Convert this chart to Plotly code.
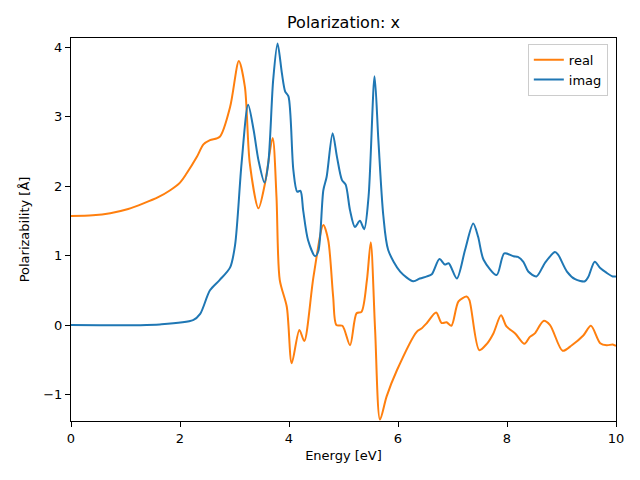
import plotly.graph_objects as go

# Real part (orange)
real_e = [0.0, 0.40, 0.72, 1.05, 1.33, 1.60, 1.82, 2.00, 2.12, 2.31, 2.43, 2.55, 2.73, 2.92, 3.08, 3.19, 3.28, 3.44, 3.56, 3.70,
          3.77, 3.83, 3.96, 4.05, 4.19, 4.28, 4.45, 4.63, 4.72, 4.81, 4.87, 4.98, 5.12, 5.24, 5.33, 5.43,
          5.50, 5.58, 5.67, 5.79, 5.98, 6.34, 6.43, 6.53, 6.70, 6.80, 6.89, 6.98, 7.11, 7.26, 7.31, 7.49,
          7.63, 7.75, 7.89, 7.99, 8.15, 8.32, 8.42, 8.51, 8.67, 8.79, 9.02, 9.19, 9.40, 9.54, 9.71, 9.83,
          9.94, 10.0]
real_v = [1.57, 1.58, 1.61, 1.67, 1.75, 1.84, 1.94, 2.05, 2.18, 2.42, 2.60, 2.66, 2.71, 3.14, 3.80, 3.43, 2.33, 1.68, 2.04, 2.69,
          1.85, 0.65, 0.26, -0.55, -0.07, -0.23, 0.70, 1.44, 1.22, 0.41, 0.0, -0.01, -0.29, 0.17, 0.19, 0.65,
          1.19, -0.07, -1.36, -1.03, -0.65, -0.10, -0.05, 0.03, 0.18, 0.03, 0.04, -0.01, 0.34, 0.41, 0.36, -0.36,
          -0.27, -0.12, 0.14, -0.02, -0.12, -0.27, -0.17, -0.12, 0.06, 0.0, -0.37, -0.29, -0.15, -0.01, -0.26, -0.29,
          -0.28, -0.30]

# Imaginary part (blue)
imag_e = [0.0, 1.63, 2.24, 2.37, 2.55, 2.73, 2.92, 3.01, 3.13, 3.25, 3.35, 3.44, 3.55, 3.62, 3.71, 3.79,
          3.87, 3.93, 3.99, 4.08, 4.15, 4.21, 4.26, 4.35, 4.48, 4.54, 4.63, 4.69, 4.80, 4.88, 4.97, 5.04,
          5.12, 5.21, 5.30, 5.38, 5.46, 5.57, 5.64, 5.73, 5.82, 6.04, 6.28, 6.40, 6.53, 6.62, 6.76, 6.86,
          6.93, 7.08, 7.23, 7.38, 7.47, 7.57, 7.81, 7.95, 8.12, 8.20, 8.30, 8.39, 8.54, 8.70, 8.88, 8.94,
          9.10, 9.25, 9.43, 9.49, 9.61, 9.71, 9.83, 9.94, 10.0]
imag_v = [0.0, 0.01, 0.07, 0.16, 0.50, 0.65, 0.83, 1.15, 2.33, 3.17, 2.81, 2.37, 2.05, 2.33, 3.53, 4.05,
          3.62, 3.36, 3.29, 2.23, 1.92, 1.93, 1.65, 1.22, 0.99, 1.07, 1.94, 2.13, 2.76, 2.42, 2.09, 2.02,
          1.65, 1.41, 1.50, 1.38, 1.85, 3.58, 2.66, 1.58, 1.08, 0.77, 0.63, 0.67, 0.70, 0.73, 0.95, 0.87,
          0.89, 0.67, 1.08, 1.46, 1.27, 0.94, 0.72, 1.03, 0.99, 0.98, 0.91, 0.77, 0.70, 0.90, 1.05, 1.01,
          0.77, 0.66, 0.63, 0.69, 0.91, 0.82, 0.75, 0.70, 0.70]

x_ticks = [0, 2, 4, 6, 8, 10]
y_ticks = [-1, 0, 1, 2, 3, 4]

fig = go.Figure()
fig.add_trace(go.Scatter(x=real_e, y=real_v, mode="lines", name="real",
                         line=dict(color="#ff7f0e", width=2, shape="spline", smoothing=0.8)))
fig.add_trace(go.Scatter(x=imag_e, y=imag_v, mode="lines", name="imag",
                         line=dict(color="#1f77b4", width=2, shape="spline", smoothing=0.8)))

axis_common = dict(showline=True, linecolor="black", linewidth=1, mirror=True,
                   ticks="outside", ticklen=5, tickwidth=1, tickcolor="black",
                   showgrid=False, zeroline=False,
                   tickfont=dict(family="DejaVu Sans", size=13, color="black"))

# page body has an 8px margin; compensate so plot area lands at x 71-616, y 38-421
W, H = 632, 472
fig.update_layout(
    width=W, height=H,
    margin=dict(l=63, r=W - 608, t=30, b=H - 413),
    paper_bgcolor="white", plot_bgcolor="white",
    font=dict(family="DejaVu Sans", color="black"),
    title=dict(text="Polarization: x", x=(63 + 608) / 2 / W, xanchor="center",
               y=1 - 14 / H, yanchor="middle",
               font=dict(family="DejaVu Sans", size=16, color="black")),
    xaxis=dict(range=[0, 10], tickvals=x_ticks,
               title=dict(text="Energy [eV]", font=dict(size=13), standoff=6), **axis_common),
    yaxis=dict(range=[-1.38, 4.13], tickvals=y_ticks,
               title=dict(text="Polarizability [Å]", font=dict(size=13), standoff=10), **axis_common),
    legend=dict(x=0.985, y=0.985, xanchor="right", yanchor="top",
                bgcolor="rgba(255,255,255,0.8)", bordercolor="#cccccc", borderwidth=1,
                font=dict(family="DejaVu Sans", size=13)),
    showlegend=True,
)

fig.write_html("out.html")
